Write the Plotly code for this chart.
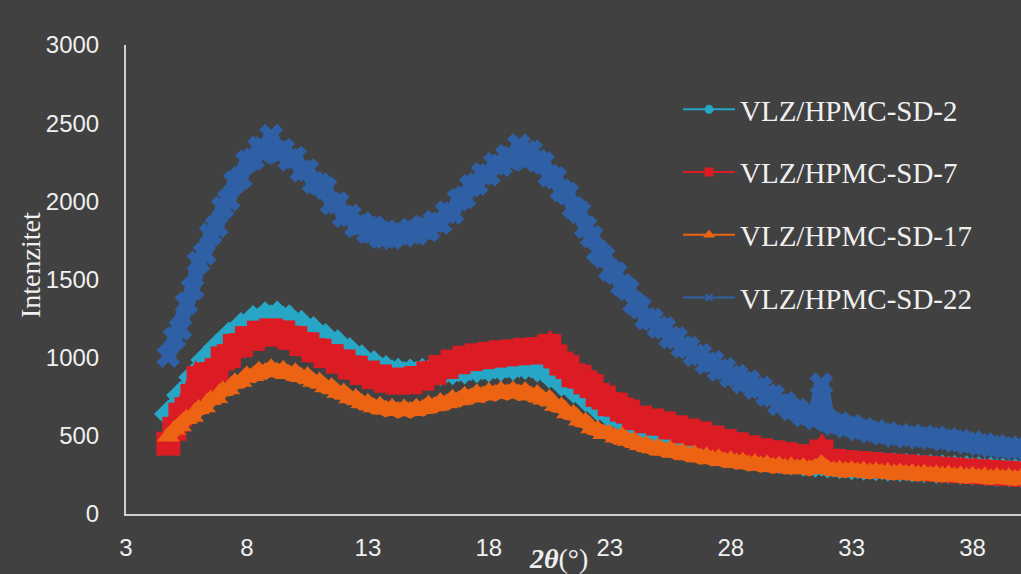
import numpy as np
import plotly.graph_objects as go

# 2θ grid of the diffractograms (degrees)
two_theta = np.round(np.arange(4.75, 40.26, 0.25), 2)

sd_2 = [
    640, 675, 760, 790, 875, 905, 985, 1000, 1065, 1080,
    1140, 1150, 1200, 1200, 1245, 1235, 1270, 1250, 1275, 1240,
    1250, 1210, 1215, 1170, 1175, 1130, 1130, 1085, 1090, 1045,
    1040, 1000, 995, 950, 958, 922, 925, 898, 908, 888,
    903, 890, 908, 898, 918, 908, 926, 915, 933, 920,
    940, 928, 946, 933, 951, 938, 956, 943, 960, 948,
    958, 932, 930, 892, 883, 842, 836, 797, 788, 742,
    728, 682, 672, 633, 632, 603, 592, 553, 551, 524,
    521, 494, 494, 469, 471, 449, 453, 434, 436, 415,
    419, 403, 406, 390, 394, 377, 381, 365, 370, 355,
    360, 345, 351, 338, 344, 330, 337, 324, 330, 318,
    324, 313, 319, 308, 314, 304, 311, 301, 307, 297,
    304, 294, 300, 291, 297, 288, 294, 284, 291, 281,
    287, 277, 284, 274, 280, 270, 276, 266, 272, 262,
    268, 258, 264,
]

sd_7 = [
    450, 545, 635, 670, 755, 870, 830, 895, 920, 995,
    1010, 1075, 1080, 1125, 1120, 1160, 1148, 1175, 1150, 1162,
    1128, 1125, 1088, 1085, 1048, 1045, 1010, 1010, 975, 975,
    938, 935, 902, 905, 875, 880, 852, 860, 840, 855,
    843, 870, 866, 900, 903, 940, 941, 975, 971, 1000,
    991, 1015, 1003, 1025, 1013, 1035, 1021, 1040, 1028, 1050,
    1036, 1055, 1033, 1075, 1008, 962, 940, 887, 878, 842,
    818, 762, 745, 703, 699, 668, 655, 613, 617, 593,
    598, 579, 578, 554, 554, 529, 534, 514, 514, 489,
    488, 464, 466, 444, 446, 424, 426, 404, 408, 389,
    395, 380, 383, 365, 370, 355, 360, 346, 400, 336,
    340, 328, 332, 321, 326, 315, 320, 309, 314, 304,
    309, 298, 304, 293, 299, 288, 294, 283, 289, 278,
    284, 273, 279, 268, 274, 264, 269, 259, 265, 255,
    261, 251, 257,
]

sd_17 = [
    495, 540, 562, 610, 622, 672, 683, 732, 742, 792,
    798, 842, 846, 887, 883, 917, 906, 932, 910, 922,
    896, 907, 876, 882, 846, 847, 811, 812, 776, 777,
    741, 742, 708, 712, 683, 692, 667, 680, 659, 677,
    659, 680, 671, 700, 690, 717, 708, 737, 728, 757,
    746, 772, 758, 782, 767, 790, 773, 792, 771, 787,
    758, 767, 733, 737, 693, 687, 645, 640, 598, 590,
    548, 540, 511, 514, 490, 499, 468, 469, 441, 443,
    420, 426, 405, 412, 391, 397, 376, 382, 362, 369,
    350, 357, 339, 346, 329, 336, 319, 326, 310, 318,
    302, 311, 297, 305, 292, 300, 287, 295, 320, 289,
    279, 285, 276, 282, 272, 278, 268, 274, 264, 270,
    260, 266, 256, 262, 253, 259, 249, 255, 246, 252,
    242, 248, 238, 244, 234, 241, 231, 238, 228, 235,
    225, 232, 222,
]

sd_22 = [
    1010, 1125, 1185, 1345, 1440, 1610, 1665, 1790, 1840, 1960,
    2010, 2125, 2150, 2255, 2270, 2345, 2315, 2420, 2310, 2330,
    2265, 2280, 2195, 2200, 2120, 2110, 2085, 1985, 1990, 1905,
    1910, 1840, 1860, 1800, 1835, 1770, 1810, 1765, 1805, 1780,
    1820, 1790, 1840, 1815, 1870, 1860, 1930, 1925, 2010, 2025,
    2100, 2110, 2175, 2170, 2240, 2230, 2290, 2265, 2360, 2285,
    2320, 2260, 2245, 2165, 2150, 2070, 2050, 1960, 1930, 1835,
    1775, 1680, 1645, 1560, 1540, 1465, 1435, 1350, 1320, 1250,
    1245, 1195, 1190, 1130, 1125, 1070, 1065, 1015, 1020, 965,
    975, 920, 930, 880, 885, 840, 850, 805, 810, 760,
    755, 700, 710, 670, 668, 630, 638, 610, 830, 600,
    575, 582, 558, 565, 540, 546, 525, 532, 512, 518,
    500, 508, 493, 503, 488, 497, 484, 490, 474, 481,
    466, 470, 455, 460, 444, 447, 432, 436, 423, 428,
    417, 423, 414,
]

series_names = ["VLZ/HPMC-SD-2", "VLZ/HPMC-SD-7", "VLZ/HPMC-SD-17", "VLZ/HPMC-SD-22"]
series_values = [sd_2, sd_7, sd_17, sd_22]
colors = ["#27a6c6", "#dc1c24", "#ec6413", "#2f60a5"]
legend_symbols = ["circle", "square", "triangle-up", "x-thin-open"]
band_symbols = ["diamond", "square", "triangle-up", "x"]
band_line_widths = [16, 20, 14, 15]
band_marker_sizes = [22, 24, 20, 21]

y_ticks = [0, 500, 1000, 1500, 2000, 2500, 3000]
x_ticks = [3, 8, 13, 18, 23, 28, 33, 38]

BG = "#414141"
AXIS = "#d0d0d0"
TEXT = "#f0f0f0"

fig = go.Figure()

for name, vals, col, sym, lw, ms in zip(series_names, series_values, colors,
                                        band_symbols, band_line_widths, band_marker_sizes):
    fig.add_trace(go.Scatter(
        x=two_theta, y=vals, mode="lines+markers", name=name,
        line=dict(color=col, width=lw),
        marker=dict(color=col, symbol=sym, size=ms, line=dict(width=0)),
        showlegend=False, hoverinfo="x+y",
    ))

# legend entries: thin line with the series marker
for i, (name, col, sym) in enumerate(zip(series_names, colors, legend_symbols)):
    fig.add_trace(go.Scatter(
        x=[None], y=[None], mode="lines+markers", name=name,
        legendgroup=f"g{i}",
        line=dict(color=col, width=2),
        marker=dict(color=col, symbol=sym, size=7,
                    line=dict(color=col, width=2)),
    ))

fig.update_layout(
    width=1021, height=574,
    paper_bgcolor=BG, plot_bgcolor=BG,
    margin=dict(l=126, r=0, t=45, b=60),
    font=dict(family="Liberation Sans, Arial, sans-serif", color=TEXT),
    legend=dict(
        x=(678 - 126) / 895, xanchor="left",
        y=(514 - 84) / 469, yanchor="top",
        bgcolor="rgba(0,0,0,0)",
        font=dict(family="Liberation Serif, Times New Roman, serif", size=29, color=TEXT),
        tracegroupgap=22, itemwidth=52,
    ),
    xaxis=dict(
        range=[3, 40], tickvals=x_ticks, ticktext=[str(v) for v in x_ticks],
        showgrid=False, zeroline=False, showline=True, linecolor=AXIS, linewidth=2,
        ticks="", tickfont=dict(size=24, color=TEXT), ticklabelstandoff=11,
    ),
    yaxis=dict(
        range=[0, 3000], tickvals=y_ticks, ticktext=[str(v) for v in y_ticks],
        showgrid=False, zeroline=False, showline=True, linecolor=AXIS, linewidth=2,
        ticks="", tickfont=dict(size=24, color=TEXT), ticklabelstandoff=20,
    ),
    annotations=[
        dict(text="Intenzitet", xref="paper", yref="paper",
             x=(30 - 126) / 895, y=(514 - 265) / 469, xanchor="center", yanchor="middle",
             textangle=-90, showarrow=False,
             font=dict(family="Liberation Serif, Times New Roman, serif", size=28, color=TEXT)),
        dict(text="<b><i>2θ</i></b>(°)", xref="paper", yref="paper",
             x=(558 - 126) / 895, y=(514 - 558) / 469, xanchor="center", yanchor="middle",
             showarrow=False,
             font=dict(family="Liberation Serif, Times New Roman, serif", size=28, color=TEXT)),
    ],
)

fig.write_html("out.html")
